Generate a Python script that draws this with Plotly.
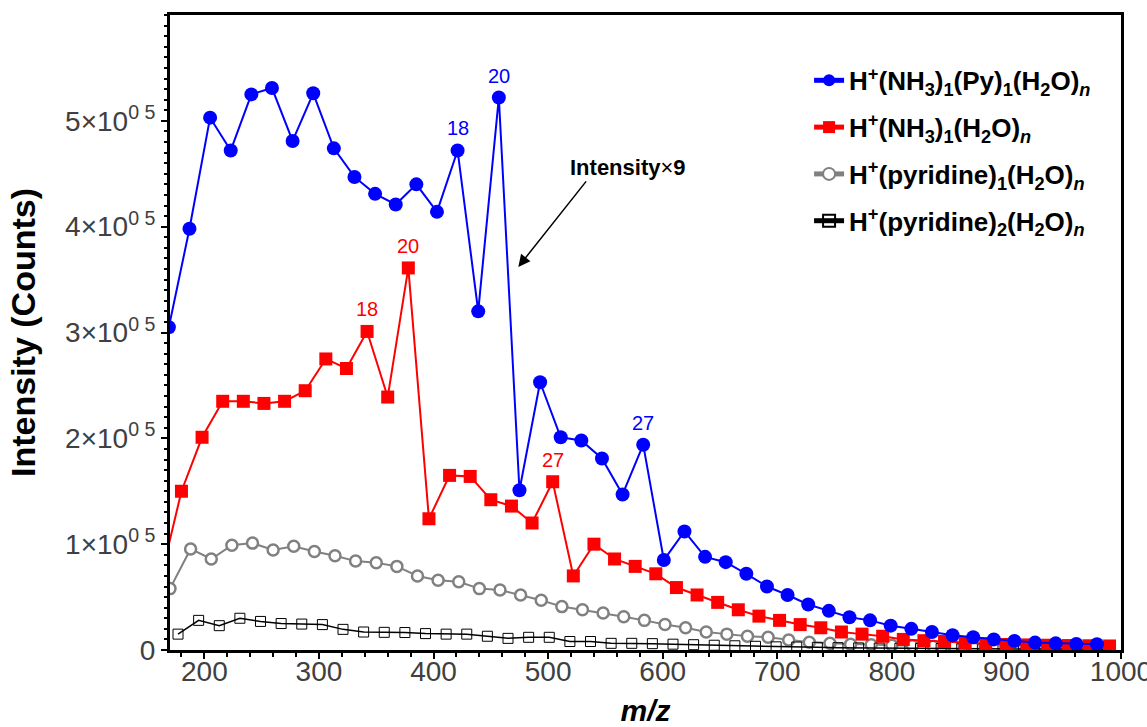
import plotly.graph_objects as go

# ---------------- data (m/z, intensity in units of 1e5 counts) ----------------
blue_mz = [169, 187, 205, 223, 241, 259, 277, 295, 313, 331, 349, 367, 385, 403, 421, 439, 457,
           475, 493, 511, 529, 547, 565, 583, 601, 619, 637, 655, 673, 691, 709, 727, 745, 763,
           781, 799, 817, 835, 853, 871, 889, 907, 925, 943, 961, 979]
blue_int = [3.05, 3.98, 5.03, 4.72, 5.25, 5.31, 4.81, 5.26, 4.74, 4.47, 4.31, 4.21, 4.40, 4.14,
            4.72, 3.20, 5.22, 1.51, 2.53, 2.01, 1.98, 1.81, 1.47, 1.94, 0.85, 1.12, 0.88, 0.83,
            0.72, 0.60, 0.52, 0.43, 0.37, 0.31, 0.28, 0.23, 0.20, 0.17, 0.14, 0.12, 0.10, 0.085,
            0.07, 0.063, 0.057, 0.054]

red_mz = [162, 180, 198, 216, 234, 252, 270, 288, 306, 324, 342, 360, 378, 396, 414, 432, 450,
          468, 486, 504, 522, 540, 558, 576, 594, 612, 630, 648, 666, 684, 702, 720, 738, 756,
          774, 792, 810, 828, 846, 864, 882, 900, 918, 936, 954, 972, 990]
red_int = [0.68, 1.50, 2.01, 2.35, 2.35, 2.33, 2.35, 2.45, 2.75, 2.66, 3.01, 2.39, 3.61, 1.24,
           1.65, 1.64, 1.42, 1.36, 1.20, 1.59, 0.70, 1.00, 0.86, 0.79, 0.72, 0.59, 0.52, 0.45,
           0.38, 0.32, 0.28, 0.24, 0.21, 0.17, 0.15, 0.13, 0.10, 0.088, 0.08, 0.065, 0.058, 0.052,
           0.048, 0.045, 0.042, 0.040, 0.038]

gray_mz = [170, 188, 206, 224, 242, 260, 278, 296, 314, 332, 350, 368, 386, 404, 422, 440, 458,
           476, 494, 512, 530, 548, 566, 584, 602, 620, 638, 656, 674, 692, 710, 728, 746, 764,
           782, 800, 818, 836, 854, 872, 890, 908, 926, 944, 962, 980]
gray_int = [0.58, 0.955, 0.86, 0.99, 1.01, 0.945, 0.98, 0.93, 0.89, 0.84, 0.825, 0.79, 0.70, 0.66,
            0.645, 0.58, 0.567, 0.52, 0.47, 0.41, 0.38, 0.35, 0.315, 0.28, 0.24, 0.21, 0.17, 0.15,
            0.13, 0.12, 0.095, 0.073, 0.063, 0.055, 0.05, 0.045, 0.04, 0.035, 0.032, 0.03, 0.028,
            0.025, 0.023, 0.02, 0.02, 0.018]

black_mz = [177, 195, 213, 231, 249, 267, 285, 303, 321, 339, 357, 375, 393, 411, 429, 447, 465,
            483, 501, 519, 537, 555, 573, 591, 609, 627, 645, 663, 681, 699, 717, 735, 753, 771,
            789, 807, 825, 843, 861, 879, 897, 915, 933, 951, 969, 987]
black_int = [0.15, 0.28, 0.23, 0.30, 0.27, 0.25, 0.245, 0.24, 0.195, 0.17, 0.167, 0.165, 0.155,
             0.15, 0.15, 0.13, 0.11, 0.12, 0.12, 0.08, 0.08, 0.063, 0.063, 0.06, 0.055, 0.05,
             0.045, 0.04, 0.035, 0.03, 0.028, 0.025, 0.022, 0.02, 0.018, 0.016, 0.015, 0.014,
             0.013, 0.012, 0.011, 0.01, 0.01, 0.009, 0.009, 0.008]

scale = 1e5
names = [
    "H<sup>+</sup>(NH<sub>3</sub>)<sub>1</sub>(Py)<sub>1</sub>(H<sub>2</sub>O)<sub><i>n</i></sub>",
    "H<sup>+</sup>(NH<sub>3</sub>)<sub>1</sub>(H<sub>2</sub>O)<sub><i>n</i></sub>",
    "H<sup>+</sup>(pyridine)<sub>1</sub>(H<sub>2</sub>O)<sub><i>n</i></sub>",
    "H<sup>+</sup>(pyridine)<sub>2</sub>(H<sub>2</sub>O)<sub><i>n</i></sub>",
]
# peak labels: (m/z, text)
blue_labels = [(421, "18"), (457, "20"), (583, "27")]
red_labels = [(342, "18"), (378, "20"), (504, "27")]

ytick_vals = [0, 1e5, 2e5, 3e5, 4e5, 5e5]
ytick_text = ["0", "1×10<sup>0 5</sup>", "2×10<sup>0 5</sup>", "3×10<sup>0 5</sup>",
              "4×10<sup>0 5</sup>", "5×10<sup>0 5</sup>"]
xtick_vals = [200, 300, 400, 500, 600, 700, 800, 900, 1000]

FONT = "Liberation Sans, Arial, sans-serif"

fig = go.Figure()

fig.add_trace(go.Scatter(
    x=gray_mz, y=[v * scale for v in gray_int], mode="lines+markers", name=names[2],
    legendrank=3, legendgroup="g3",
    line=dict(color="#808080", width=2),
    marker=dict(symbol="circle", size=11, color="white", line=dict(color="#808080", width=2.5)),
))
fig.add_trace(go.Scatter(
    x=black_mz, y=[v * scale for v in black_int], mode="lines+markers", name=names[3],
    legendrank=4, legendgroup="g4",
    line=dict(color="black", width=1.5),
    marker=dict(symbol="square-open", size=10, color="black", line=dict(color="black", width=1)),
))
fig.add_trace(go.Scatter(
    x=red_mz, y=[v * scale for v in red_int], mode="lines+markers", name=names[1],
    legendrank=2, legendgroup="g2",
    line=dict(color="#ff0000", width=2),
    marker=dict(symbol="square", size=13, color="#ff0000"),
))
fig.add_trace(go.Scatter(
    x=blue_mz, y=[v * scale for v in blue_int], mode="lines+markers", name=names[0],
    legendrank=1, legendgroup="g1",
    line=dict(color="#0000ff", width=2),
    marker=dict(symbol="circle", size=14, color="#0000ff"),
))

annotations = []
for mz, txt in blue_labels:
    annotations.append(dict(x=mz, y=blue_int[blue_mz.index(mz)] * scale, text=txt,
                            showarrow=False, yshift=22, font=dict(color="#0000ff", size=20, family=FONT)))
for mz, txt in red_labels:
    annotations.append(dict(x=mz, y=red_int[red_mz.index(mz)] * scale, text=txt,
                            showarrow=False, yshift=22, font=dict(color="#ff0000", size=20, family=FONT)))

# "Intensity x 9" label and arrow
annotations.append(dict(x=474, y=3.62e5, ax=69, ay=-87, text="", showarrow=True,
                        arrowhead=2, arrowsize=1.6, arrowwidth=1.5, arrowcolor="black"))
annotations.append(dict(x=570, y=4.56e5, text="<b>Intensity</b>×<b>9</b>", showarrow=False,
                        font=dict(color="black", size=22, family=FONT)))

fig.update_layout(
    width=1147, height=727,
    margin=dict(l=170, r=26, t=15, b=77),
    paper_bgcolor="white", plot_bgcolor="white",
    font=dict(family=FONT, color="#404040"),
    showlegend=True,
    legend=dict(x=0.672, y=0.934, xanchor="left", yanchor="top",
                font=dict(size=26, color="black", family=FONT, weight="bold"),
                tracegroupgap=10, bgcolor="rgba(0,0,0,0)", itemsizing="constant"),
    annotations=annotations,
)

fig.update_xaxes(
    range=[170, 1000], tickvals=xtick_vals, ticks="outside", ticklen=6, tickwidth=2,
    tickcolor="black", showline=True, linecolor="black", linewidth=3, mirror=True,
    showgrid=False, zeroline=False, tickfont=dict(size=28, color="#404040"), automargin=False,
    ticklabeloverflow="allow", ticklabelstandoff=-12,
    minor=dict(dtick=20, ticks="outside", ticklen=4, tickwidth=2, tickcolor="black", showgrid=False),
    title=dict(text="<b><i>m/z</i></b>", font=dict(size=30, color="black")),
)
fig.update_yaxes(
    range=[0, 6e5], tickvals=ytick_vals, ticktext=ytick_text, ticks="outside", ticklen=6,
    tickwidth=2, tickcolor="black", showline=True, linecolor="black", linewidth=3, mirror=True,
    showgrid=False, zeroline=False, tickfont=dict(size=28, color="#404040"), automargin=True,
    minor=dict(dtick=1e4, ticks="outside", ticklen=3, tickwidth=1.5, tickcolor="black", showgrid=False),
    title=dict(text="<b>Intensity (Counts)</b>", font=dict(size=34, color="black"), standoff=20),
)

fig.write_html("out.html")
